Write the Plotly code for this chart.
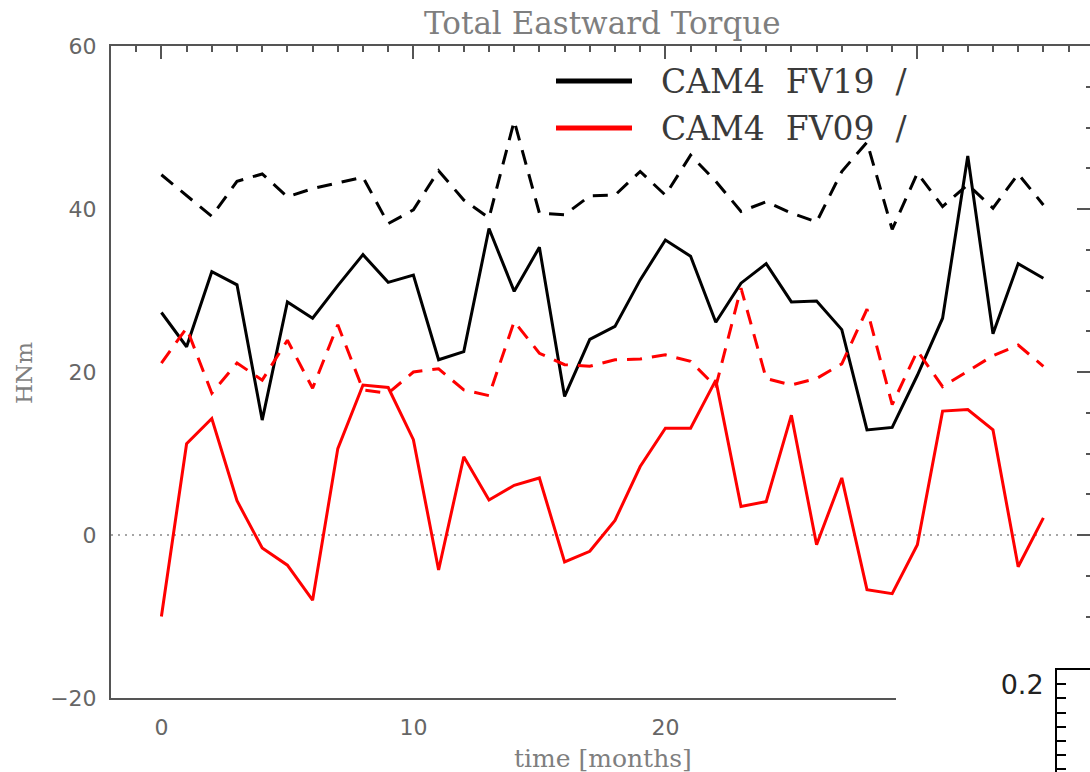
import plotly.graph_objects as go

# ---------------- data ----------------
months = list(range(36))

fv19_solid = [27.3, 23.1, 32.3, 30.7, 14.1, 28.6, 26.6, 30.6, 34.4, 31.0,
              31.9, 21.5, 22.5, 37.6, 29.9, 35.3, 17.0, 24.0, 25.6, 31.3,
              36.2, 34.2, 26.1, 30.9, 33.3, 28.6, 28.7, 25.2, 12.9, 13.2,
              19.6, 26.6, 46.5, 24.7, 33.3, 31.5]
fv19_dash = [44.2, 41.6, 39.1, 43.4, 44.3, 41.5, 42.5, 43.2, 43.9, 38.2,
             39.9, 44.7, 41.1, 38.9, 50.8, 39.5, 39.3, 41.6, 41.7, 44.6,
             41.7, 46.6, 43.4, 39.7, 40.9, 39.5, 38.4, 44.6, 48.2, 37.5,
             44.4, 40.3, 43.0, 40.1, 44.3, 40.5]
fv09_solid = [-10.0, 11.2, 14.3, 4.2, -1.6, -3.7, -8.0, 10.6, 18.4, 18.1,
              11.7, -4.3, 9.6, 4.3, 6.1, 7.0, -3.3, -2.0, 1.8, 8.4,
              13.1, 13.1, 19.0, 3.5, 4.1, 14.7, -1.2, 7.0, -6.7, -7.2,
              -1.2, 15.2, 15.4, 12.9, -3.9, 2.1]
fv09_dash = [21.1, 25.4, 17.4, 21.1, 19.0, 23.9, 18.0, 25.8, 17.8, 17.4,
             20.0, 20.4, 17.8, 17.1, 26.2, 22.3, 20.9, 20.7, 21.5, 21.6,
             22.1, 21.3, 18.2, 30.3, 19.2, 18.4, 19.2, 21.0, 27.7, 16.0,
             22.6, 18.2, 20.1, 22.0, 23.3, 20.7]

legend_labels = ["CAM4\u00a0\u00a0FV19\u00a0\u00a0/", "CAM4\u00a0\u00a0FV09\u00a0\u00a0/"]
title_text = "Total Eastward Torque"
xlabel_text = "time [months]"
ylabel_text = "HNm"

# ---------------- geometry ----------------
W, H = 1090, 772
ML, MR, MT, MB = 111, 0, 46, 0
PW, PH = W - ML - MR, H - MT - MB


def px(x):
    return (x - ML) / PW


def py(y):
    return (H - MB - y) / PH


XR0, XR1 = -2.0, 36.85
bottom_end_px = 896
fb = px(bottom_end_px)
xb1 = XR0 + fb * (XR1 - XR0)
yd0 = py(698)

AX = "#555555"
GRAY = "#7f7f7f"
SERIF = "DejaVu Serif"
SANS = "DejaVu Sans"

fig = go.Figure()
series = [
    (fv19_dash, "black", "15px,10px"),
    (fv19_solid, "black", "solid"),
    (fv09_dash, "#ff0000", "15px,10px"),
    (fv09_solid, "#ff0000", "solid"),
]
for vals, col, dash in series:
    fig.add_trace(go.Scatter(x=months, y=vals, mode="lines",
                             line=dict(color=col, width=3, dash=dash),
                             xaxis="x2", yaxis="y", showlegend=False,
                             hoverinfo="skip"))

# empty traces so that every axis pair is drawn
for xa, ya in [("x", "y"), ("x2", "y2"), ("x3", "y3")]:
    fig.add_trace(go.Scatter(x=[], y=[], mode="lines", xaxis=xa, yaxis=ya,
                             showlegend=False, hoverinfo="skip"))

tickfont = dict(family=SANS, size=22, color="#666666")

fig.update_layout(
    template="none",
    width=W, height=H,
    margin=dict(l=ML, r=MR, t=MT, b=MB, pad=0),
    paper_bgcolor="white", plot_bgcolor="white",
    showlegend=False,
    xaxis=dict(domain=[0, fb], range=[XR0, xb1], anchor="y", automargin=False,
               showline=True, linecolor=AX, linewidth=2,
               ticks="inside", ticklen=13, tickwidth=2, tickcolor=AX,
               tick0=0, dtick=10,
               minor=dict(ticks="inside", dtick=1, tick0=0, ticklen=6,
                          tickwidth=2, tickcolor=AX),
               tickfont=tickfont, ticklabelstandoff=9,
               showgrid=False, zeroline=False),
    xaxis2=dict(domain=[0, 1], range=[XR0, XR1], anchor="y", side="top",
                automargin=False,
                showline=True, linecolor=AX, linewidth=2,
                ticks="inside", ticklen=13, tickwidth=2, tickcolor=AX,
                tick0=0, dtick=10,
                minor=dict(ticks="inside", dtick=1, tick0=0, ticklen=6,
                           tickwidth=2, tickcolor=AX),
                showticklabels=False, showgrid=False, zeroline=False),
    yaxis=dict(domain=[yd0, 1], range=[-20, 60], anchor="x", automargin=False,
               showline=True, linecolor=AX, linewidth=2,
               ticks="inside", ticklen=19, tickwidth=2, tickcolor=AX,
               tick0=0, dtick=20,
               minor=dict(ticks="inside", dtick=5, tick0=0, ticklen=10,
                          tickwidth=2, tickcolor=AX),
               tickfont=tickfont, ticklabelstandoff=8,
               showgrid=False, zeroline=False),
    yaxis2=dict(overlaying="y", side="right", anchor="free", position=1.0,
                automargin=False,
                range=[-20, 60], showline=False,
                ticks="inside", ticklen=13, tickwidth=2, tickcolor=AX,
                tickmode="array", tickvals=[0, 20, 40, 60],
                minor=dict(ticks="inside", tickmode="array",
                           tickvals=[-10, -5, 5, 10, 15, 25, 30, 35, 45, 50, 55],
                           ticklen=4, tickwidth=2, tickcolor=AX),
                showticklabels=False, showgrid=False, zeroline=False),
    xaxis3=dict(domain=[px(1057), 1], range=[0, 1], anchor="y3", side="top",
                automargin=False,
                showline=True, linecolor="black", linewidth=2, ticks="",
                showticklabels=False, showgrid=False, zeroline=False),
    yaxis3=dict(domain=[0, py(670)], range=[0.138, 0.21], anchor="x3",
                automargin=False,
                showline=True, linecolor="black", linewidth=2,
                ticks="inside", ticklen=9, tickwidth=2, tickcolor="black",
                tick0=0, dtick=0.1, tickformat=".1f",
                minor=dict(ticks="inside", dtick=0.01, tick0=0, ticklen=9,
                           tickwidth=2, tickcolor="black"),
                tickfont=dict(family=SANS, size=27, color="#222222"),
                ticklabelstandoff=6,
                showgrid=False, zeroline=False),
)

shapes = [
    dict(type="line", xref="x2", yref="y", x0=XR0, x1=XR1, y0=0, y1=0,
         line=dict(color="#888888", width=1.6, dash="2px,5px"), layer="below"),
    dict(type="line", xref="paper", yref="paper", x0=px(556), x1=px(632),
         y0=py(81), y1=py(81), line=dict(color="black", width=5)),
    dict(type="line", xref="paper", yref="paper", x0=px(556), x1=px(632),
         y0=py(128), y1=py(128), line=dict(color="#ff0000", width=5)),
]
fig.update_layout(shapes=shapes)

annotations = [
    dict(text=title_text, x=px(602), y=py(23), xref="paper", yref="paper",
         showarrow=False, xanchor="center", yanchor="middle",
         font=dict(family=SERIF, size=31, color=GRAY)),
    dict(text=xlabel_text, x=px(603), y=py(758), xref="paper", yref="paper",
         showarrow=False, xanchor="center", yanchor="middle",
         font=dict(family=SERIF, size=25, color=GRAY)),
    dict(text=ylabel_text, x=px(24), y=py(373), xref="paper", yref="paper",
         showarrow=False, xanchor="center", yanchor="middle", textangle=-90,
         font=dict(family=SERIF, size=23, color=GRAY)),
    dict(text=legend_labels[0], x=px(659), y=py(82), xref="paper", yref="paper",
         showarrow=False, xanchor="left", yanchor="middle",
         font=dict(family=SERIF, size=33, color="#3a3a3a")),
    dict(text=legend_labels[1], x=px(659), y=py(128), xref="paper", yref="paper",
         showarrow=False, xanchor="left", yanchor="middle",
         font=dict(family=SERIF, size=33, color="#3a3a3a")),
]
fig.update_layout(annotations=annotations)

fig.write_html("out.html")
